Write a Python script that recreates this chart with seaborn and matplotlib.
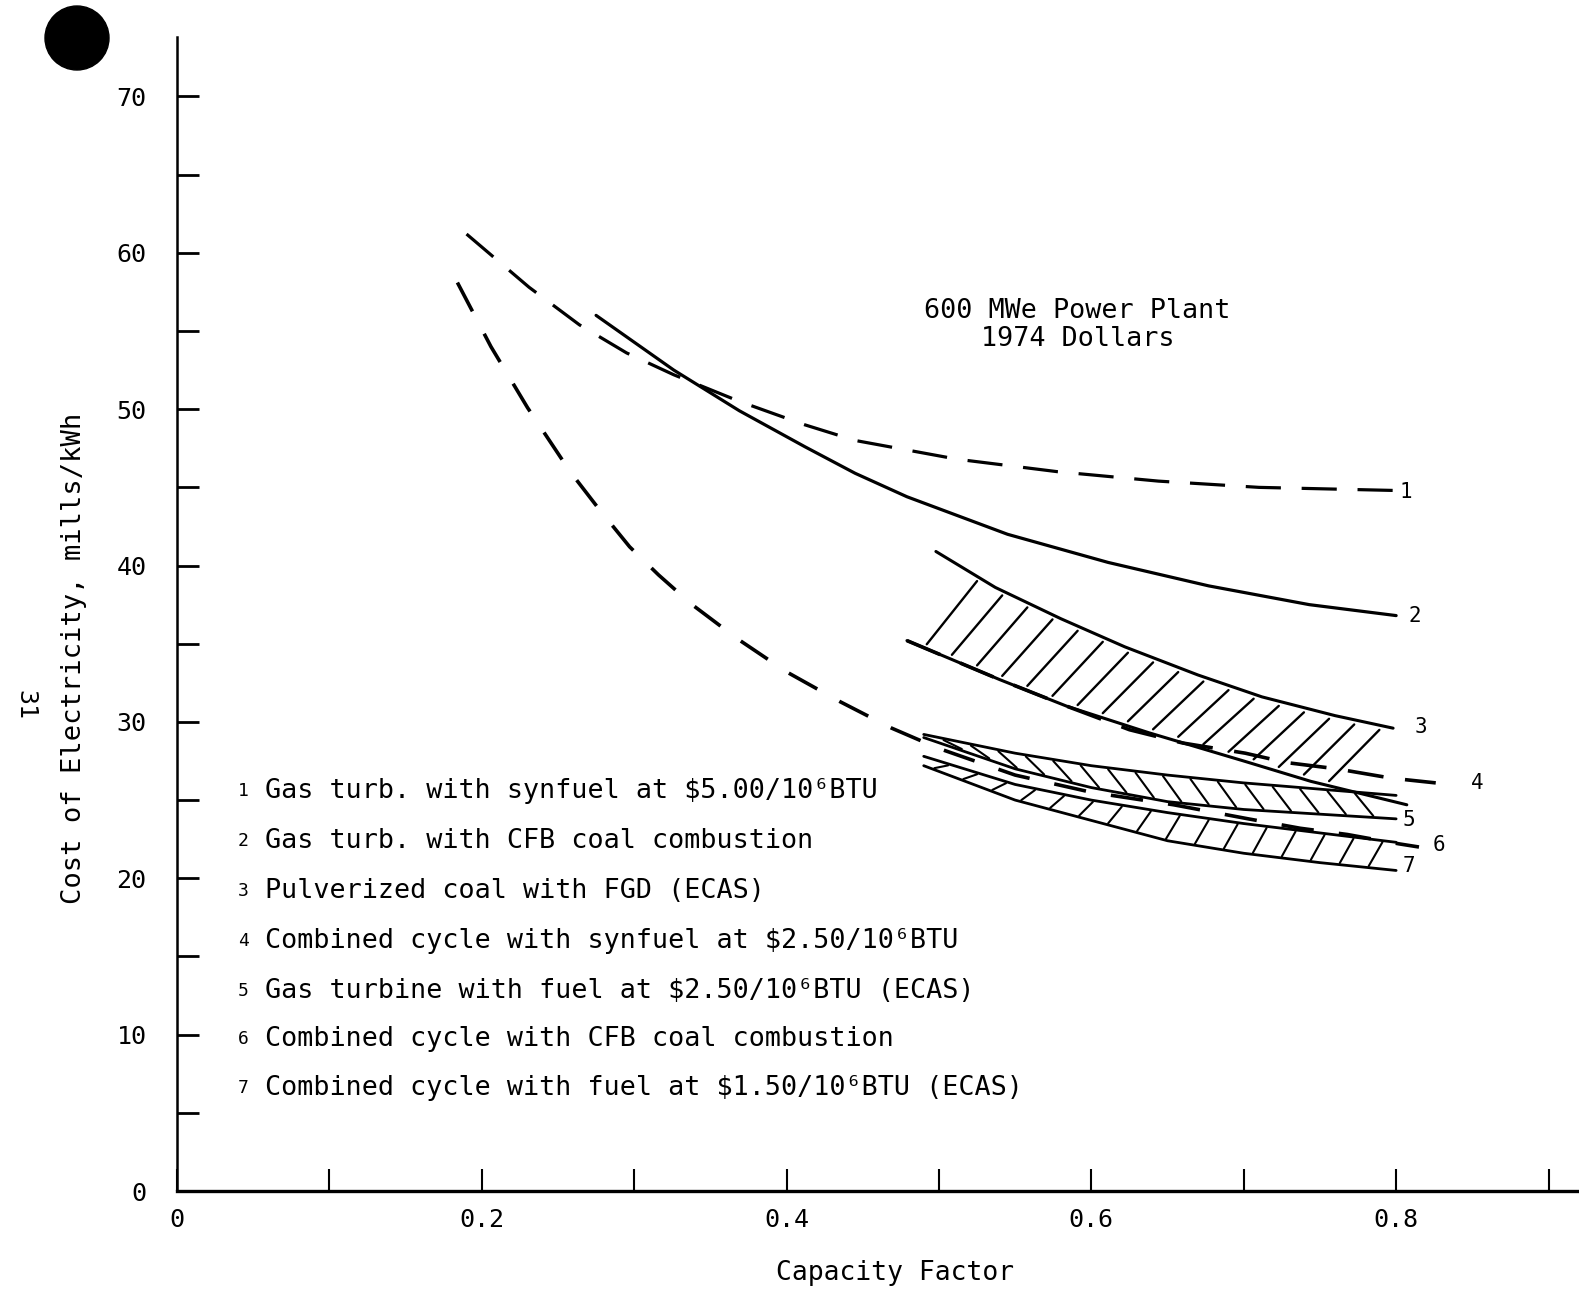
import numpy as np
import matplotlib
matplotlib.use("Agg")
import matplotlib.pyplot as plt
from matplotlib.patches import Ellipse
import seaborn as sns

# --- data (capacity factor, mills/kWh) ---
# 1 gas turbine, synfuel $5.00 (dashed)
x1 = [0.190, 0.231, 0.264, 0.295, 0.326, 0.369, 0.412, 0.445, 0.512, 0.578, 0.644, 0.710, 0.800]
y1 = [61.2, 57.8, 55.4, 53.6, 52.2, 50.5, 49.0, 48.0, 46.8, 46.0, 45.4, 45.0, 44.8]
# 2 gas turbine, CFB coal (solid)
x2 = [0.275, 0.326, 0.369, 0.412, 0.445, 0.479, 0.512, 0.545, 0.611, 0.677, 0.743, 0.800]
y2 = [56.0, 52.5, 49.9, 47.6, 45.9, 44.4, 43.2, 42.0, 40.2, 38.7, 37.5, 36.8]
# 3 pulverized coal band
x3_hi = [0.498, 0.537, 0.580, 0.622, 0.670, 0.712, 0.760, 0.798]
y3_hi = [40.9, 38.6, 36.6, 34.8, 33.0, 31.6, 30.4, 29.6]
x3_lo = [0.479, 0.540, 0.584, 0.638, 0.700, 0.744, 0.807]
y3_lo = [35.2, 32.7, 31.0, 29.3, 27.5, 26.2, 24.7]
# 4 combined cycle, synfuel $2.50 (dashed)
x4 = [0.479, 0.540, 0.584, 0.625, 0.660, 0.701, 0.728, 0.761, 0.797, 0.826]
y4 = [35.2, 32.7, 31.0, 29.5, 28.65, 28.0, 27.4, 27.0, 26.4, 26.1]
# 5 gas turbine band
x5 = [0.490, 0.550, 0.600, 0.650, 0.700, 0.750, 0.800]
y5_hi = [29.2, 28.0, 27.2, 26.6, 26.1, 25.7, 25.3]
y5_lo = [29.0, 27.0, 25.8, 24.9, 24.4, 24.1, 23.8]
# 6 combined cycle, CFB coal (dashed)
x6 = [0.184, 0.206, 0.230, 0.258, 0.277, 0.297, 0.316, 0.338, 0.368, 0.400, 0.435,
      0.469, 0.500, 0.550, 0.600, 0.654, 0.703, 0.737, 0.768, 0.802, 0.815]
y6 = [58.1, 54.0, 50.1, 46.0, 43.6, 41.2, 39.4, 37.5, 35.3, 33.2, 31.3,
      29.6, 28.3, 26.6, 25.5, 24.7, 23.8, 23.2, 22.8, 22.2, 22.0]
# 7 combined cycle band
x7 = [0.490, 0.550, 0.600, 0.650, 0.700, 0.750, 0.800]
y7_hi = [27.8, 26.0, 25.0, 24.2, 23.5, 22.9, 22.3]
y7_lo = [27.2, 25.0, 23.7, 22.4, 21.6, 21.0, 20.5]

curve_labels = ["1", "2", "3", "4", "5", "6", "7"]
label_x = [0.802, 0.808, 0.812, 0.849, 0.804, 0.824, 0.804]
label_y = [44.7, 36.8, 29.7, 26.1, 23.7, 22.1, 20.8]

legend_items = [
    "Gas turb. with synfuel at $5.00/10\u2076BTU",
    "Gas turb. with CFB coal combustion",
    "Pulverized coal with FGD (ECAS)",
    "Combined cycle with synfuel at $2.50/10\u2076BTU",
    "Gas turbine with fuel at $2.50/10\u2076BTU (ECAS)",
    "Combined cycle with CFB coal combustion",
    "Combined cycle with fuel at $1.50/10\u2076BTU (ECAS)",
]
legend_y = [25.6, 22.4, 19.2, 16.0, 12.8, 9.7, 6.6]

sns.set_style("white")
plt.rcParams["font.family"] = ["DejaVu Sans Mono"]
plt.rcParams["text.color"] = "black"
plt.rcParams["axes.labelcolor"] = "black"
plt.rcParams["xtick.color"] = "black"
plt.rcParams["ytick.color"] = "black"

fig = plt.figure(figsize=(15.79, 12.95), dpi=100)
ax = fig.add_axes([0.1121, 0.0803, 0.8879, 0.8911])


def hatch_band(ax, xl, yl, xh, yh, start, stop, step, lean, inset=0.25, lw=1.7):
    # short hatch strokes from the lower edge to the upper edge
    for x0 in np.arange(start, stop, step):
        xa, xb = x0, x0 + lean
        ya = np.interp(xa, xl, yl) + inset
        yb = np.interp(xb, xh, yh) - inset
        ax.plot([xa, xb], [ya, yb], color="black", lw=lw, solid_capstyle="round")


# bands
sns.lineplot(x=x3_hi, y=y3_hi, ax=ax, color="black", lw=2.2, sort=False)
sns.lineplot(x=x3_lo, y=y3_lo, ax=ax, color="black", lw=2.2, sort=False)
hatch_band(ax, x3_lo, y3_lo, x3_hi, y3_hi, 0.492, 0.765, 0.0165, 0.033, inset=0.3)

sns.lineplot(x=x5, y=y5_hi, ax=ax, color="black", lw=2.0, sort=False)
sns.lineplot(x=x5, y=y5_lo, ax=ax, color="black", lw=2.0, sort=False)
hatch_band(ax, x5, y5_lo, x5, y5_hi, 0.515, 0.800, 0.018, -0.012, inset=0.1, lw=1.5)

sns.lineplot(x=x7, y=y7_hi, ax=ax, color="black", lw=2.0, sort=False)
sns.lineplot(x=x7, y=y7_lo, ax=ax, color="black", lw=2.0, sort=False)
hatch_band(ax, x7, y7_lo, x7, y7_hi, 0.497, 0.790, 0.019, 0.009, inset=0.1, lw=1.5)

# lines
sns.lineplot(x=x2, y=y2, ax=ax, color="black", lw=2.3, sort=False)
sns.lineplot(x=x1, y=y1, ax=ax, color="black", lw=2.3, sort=False)
ax.lines[-1].set_dashes((11, 6.5))
sns.lineplot(x=x4, y=y4, ax=ax, color="black", lw=2.6, sort=False)
ax.lines[-1].set_dashes((10, 6))
sns.lineplot(x=x6, y=y6, ax=ax, color="black", lw=2.6, sort=False)
ax.lines[-1].set_dashes((9, 7))

for lab, lx, ly in zip(curve_labels, label_x, label_y):
    ax.text(lx, ly, lab, fontsize=15, ha="left", va="center")

for i, (txt, ly) in enumerate(zip(legend_items, legend_y)):
    ax.text(0.040, ly, str(i + 1), fontsize=13, ha="left", va="center")
    ax.text(0.0575, ly, txt, fontsize=19.3, ha="left", va="center")

ax.text(0.591, 55.4, "600 MWe Power Plant\n1974 Dollars", fontsize=19.3,
        ha="center", va="center", linespacing=1.1)

# axes
ax.set_xlim(0, 0.92)
ax.set_ylim(0, 73.8)
for s in ["top", "right"]:
    ax.spines[s].set_visible(False)
ax.spines["left"].set_linewidth(1.8)
ax.spines["bottom"].set_linewidth(2.4)
ax.spines["left"].set_color("black")
ax.spines["bottom"].set_color("black")

xt = np.round(np.arange(0.0, 0.95, 0.1), 1)
ax.set_xticks(xt)
ax.set_xticklabels(["0", "", "0.2", "", "0.4", "", "0.6", "", "0.8", ""])
ax.set_yticks(np.arange(0, 71, 10))
ax.set_yticks(np.arange(5, 70, 10), minor=True)
ax.set_yticklabels([str(v) for v in range(0, 71, 10)])
ax.tick_params(axis="x", which="major", direction="in", length=16, width=1.5,
               pad=12, labelsize=18, bottom=True)
ax.tick_params(axis="y", which="both", direction="in", length=16, width=2.0,
               pad=22, labelsize=18, left=True)

ax.set_xlabel("Capacity Factor", fontsize=19)
ax.xaxis.set_label_coords(0.512, -0.06)
ax.set_ylabel("Cost of Electricity, mills/kWh", fontsize=19.5)
ax.yaxis.set_label_coords(-0.064, 0.462)

# page furniture from the scan
fig.text(25 / 1579, 1 - 705 / 1295, "31", fontsize=18, rotation=-90,
         ha="center", va="center")
fig.add_artist(Ellipse((77 / 1579, 1 - 38 / 1295), 64 / 1579, 64 / 1295,
                       transform=fig.transFigure, color="black"))

fig.savefig("out.png", dpi=100)
